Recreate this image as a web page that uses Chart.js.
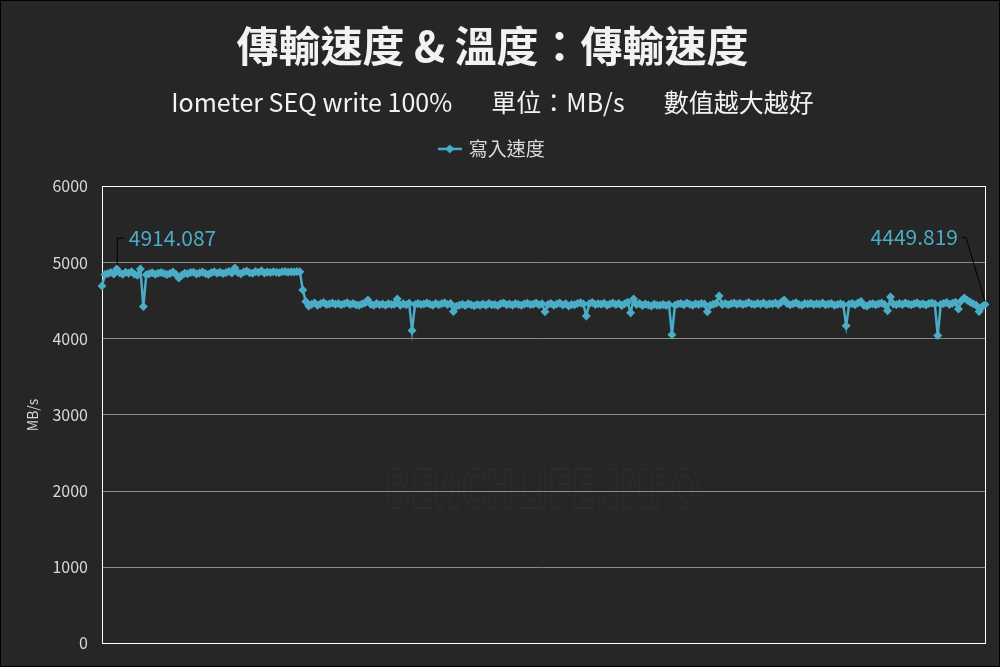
<!DOCTYPE html>
<html>
<head>
<meta charset="utf-8">
<script src="https://cdn.jsdelivr.net/npm/chart.js@4"></script>
<style>
  html, body { margin: 0; padding: 0; background: #262626; }
  #wrap { width: 1000px; height: 667px; }
</style>
</head>
<body>
<div id="wrap"><canvas id="speedChart" width="1000" height="667"></canvas></div>
<script>
// 寫入速度 (MB/s), one value per sample
const writeSpeed = [
  4693, 4842, 4858, 4870, 4851, 4914.087, 4866, 4845, 4872, 4861,
  4880, 4848, 4835, 4915, 4422, 4840, 4852, 4866, 4848, 4860,
  4870, 4855, 4843, 4858, 4875, 4846, 4797, 4832, 4860, 4853,
  4868, 4872, 4850, 4864, 4877, 4858, 4842, 4866, 4880, 4861,
  4873, 4855, 4869, 4884, 4862, 4928, 4870, 4852, 4876, 4888,
  4866, 4859, 4882, 4871, 4893, 4862, 4875, 4868, 4881, 4873,
  4866, 4878, 4884, 4872, 4880, 4876, 4883, 4880, 4640, 4490,
  4430, 4452, 4468, 4441, 4460, 4475, 4448, 4456, 4470, 4452,
  4462, 4445, 4458, 4471, 4450, 4463, 4446, 4438, 4455, 4468,
  4510, 4452, 4440, 4462, 4447, 4456, 4439, 4460, 4448, 4452,
  4523, 4441, 4458, 4445, 4466, 4109, 4450, 4462, 4448, 4455,
  4470, 4452, 4440, 4461, 4447, 4458, 4472, 4450, 4462, 4357,
  4425, 4440, 4452, 4436, 4458, 4445, 4432, 4450, 4440, 4455,
  4438, 4462, 4445, 4450, 4436, 4458, 4470, 4447, 4455, 4441,
  4463, 4450, 4438, 4456, 4467, 4448, 4452, 4470, 4445, 4460,
  4353, 4450, 4462, 4438, 4455, 4468, 4442, 4458, 4430, 4450,
  4445, 4461, 4472, 4455, 4300, 4458, 4476, 4449, 4460, 4452,
  4466, 4440, 4455, 4470, 4448, 4462, 4437, 4459, 4480, 4340,
  4523, 4448, 4462, 4435, 4455, 4444, 4430, 4452, 4440, 4438,
  4450, 4436, 4448, 4052, 4440, 4455, 4462, 4445, 4470, 4452,
  4440, 4458, 4448, 4462, 4455, 4353, 4440, 4452, 4466, 4562,
  4450, 4462, 4445, 4458, 4470, 4452, 4466, 4448, 4460, 4475,
  4455, 4448, 4466, 4452, 4470, 4446, 4460, 4455, 4468, 4450,
  4480, 4510, 4462, 4445, 4458, 4472, 4450, 4440, 4462, 4455,
  4466, 4448, 4460, 4452, 4470, 4445, 4455, 4462, 4440, 4450,
  4458, 4445, 4170, 4452, 4462, 4446, 4470, 4488, 4440, 4430,
  4452, 4460, 4447, 4458, 4470, 4450, 4366, 4549, 4455, 4445,
  4462, 4450, 4468, 4456, 4445, 4460, 4472, 4450, 4458, 4442,
  4463, 4470, 4455, 4043, 4448, 4462, 4475, 4450, 4465, 4480,
  4392, 4498, 4536, 4505, 4478, 4460, 4440, 4357, 4420, 4449.819
];
const sampleLabels = writeSpeed.map((_, i) => String(i + 1));
const yTicks = [0, 1000, 2000, 3000, 4000, 5000, 6000];
const labelledPoints = [5, writeSpeed.length - 1];

const seriesName = '寫入速度';
const mainTitle = '傳輸速度 & 溫度：傳輸速度';
const subTitle = 'Iometer SEQ write 100%       單位：MB/s       數值越大越好';

const lineColor = '#4bacc6';
const textColor = '#d9d9d9';

Chart.defaults.font.family = "'Noto Sans CJK TC', 'Noto Sans', sans-serif";
Chart.defaults.color = textColor;

// legend marker: short line with a diamond in the middle
function legendMarker(){
  const c = document.createElement('canvas');
  c.width = 24; c.height = 12;
  const g = c.getContext('2d');
  g.strokeStyle = lineColor; g.lineWidth = 2.5;
  g.beginPath(); g.moveTo(0, 6); g.lineTo(24, 6); g.stroke();
  g.fillStyle = lineColor;
  g.beginPath(); g.moveTo(12, 1.5); g.lineTo(16.5, 6); g.lineTo(12, 10.5); g.lineTo(7.5, 6); g.closePath(); g.fill();
  return c;
}

const backdrop = {
  id: 'backdrop',
  beforeDraw(chart){
    const {ctx, width, height} = chart;
    ctx.save();
    ctx.fillStyle = '#262626';
    ctx.fillRect(0, 0, width, height);
    ctx.strokeStyle = '#000';
    ctx.lineWidth = 1;
    ctx.strokeRect(0.5, 0.5, width - 1, height - 1);
    ctx.restore();
  },
  beforeDatasetsDraw(chart){
    const {ctx, chartArea: a} = chart;
    ctx.save();
    // faint watermark
    ctx.font = "bold 54px 'DejaVu Sans Condensed', sans-serif";
    const wm = 'BENCHLIFE.INFO';
    const w = ctx.measureText(wm).width;
    ctx.translate(385, 494);
    ctx.scale(315 / w, 1);
    ctx.textAlign = 'left';
    ctx.textBaseline = 'middle';
    ctx.strokeStyle = 'rgba(255,255,255,0.025)';
    ctx.lineWidth = 2;
    ctx.strokeText(wm, 0, 0);
    ctx.restore();
    ctx.save();
    // plot border
    ctx.strokeStyle = '#ffffff';
    ctx.lineWidth = 1;
    ctx.strokeRect(Math.round(a.left) + 0.5, Math.round(a.top) + 0.5,
      Math.round(a.right - a.left), Math.round(a.bottom - a.top));
    ctx.restore();
  }
};

const pointLabels = {
  id: 'pointLabels',
  afterDatasetsDraw(chart){
    const {ctx} = chart;
    const meta = chart.getDatasetMeta(0);
    const first = meta.data[labelledPoints[0]];
    const last = meta.data[labelledPoints[1]];
    ctx.save();
    ctx.font = "21px 'Noto Sans CJK TC', sans-serif";
    ctx.fillStyle = lineColor;
    ctx.textBaseline = 'middle';
    ctx.strokeStyle = '#000';
    ctx.lineWidth = 1;

    const fy = first.y - 31;
    ctx.beginPath();
    ctx.moveTo(first.x + 0.5, first.y - 4);
    ctx.lineTo(first.x + 0.5, fy);
    ctx.lineTo(first.x + 7, fy);
    ctx.stroke();
    ctx.textAlign = 'left';
    ctx.fillText(writeSpeed[labelledPoints[0]].toFixed(3), first.x + 12, fy);

    const ly = last.y - 67;
    ctx.beginPath();
    ctx.moveTo(last.x - 23, ly);
    ctx.lineTo(last.x - 19, ly);
    ctx.lineTo(last.x, last.y - 3);
    ctx.stroke();
    ctx.textAlign = 'right';
    ctx.fillText(writeSpeed[labelledPoints[1]].toFixed(3), last.x - 27, ly);
    ctx.restore();
  }
};

new Chart(document.getElementById('speedChart'), {
  type: 'line',
  data: {
    labels: sampleLabels,
    datasets: [{
      label: seriesName,
      data: writeSpeed,
      borderColor: lineColor,
      backgroundColor: lineColor,
      borderWidth: 2.5,
      pointStyle: 'rectRot',
      pointRadius: 4.5,
      pointBackgroundColor: lineColor,
      pointBorderColor: lineColor,
      pointBorderWidth: 0,
      tension: 0
    }]
  },
  options: {
    responsive: false,
    animation: false,
    layout: { padding: { left: 0, right: 15, top: 0, bottom: 20 } },
    plugins: {
      title: {
        display: true,
        text: mainTitle,
        color: '#f2f2f2',
        font: { size: 42, weight: 'bold' },
        padding: { top: 21, bottom: 0 }
      },
      subtitle: {
        display: true,
        text: subTitle,
        color: '#f2f2f2',
        font: { size: 25 },
        padding: { top: 16, bottom: 12 }
      },
      legend: {
        display: true,
        labels: {
          color: textColor,
          font: { size: 19 },
          usePointStyle: true,
          pointStyle: legendMarker(),
          padding: 10
        }
      },
      tooltip: { enabled: false }
    },
    scales: {
      x: {
        position: 'top',
        grid: { display: false },
        border: { display: false },
        ticks: { display: false },
        afterFit(s){ s.height = 18; }
      },
      y: {
        min: 0,
        max: 6000,
        afterBuildTicks(s){ s.ticks = yTicks.map(v => ({ value: v })); },
        ticks: {
          color: textColor,
          font: { size: 16 },
          padding: 14,
          callback: v => String(v)
        },
        grid: { color: '#8c8c8c', lineWidth: 1, drawTicks: false },
        border: { display: false },
        title: {
          display: true, text: 'MB/s', color: textColor,
          font: { size: 14 }, padding: { top: 24, bottom: 4 }
        },
        afterFit(s){ s.width = 102; }
      }
    }
  },
  plugins: [backdrop, pointLabels]
});
</script>
</body>
</html>
